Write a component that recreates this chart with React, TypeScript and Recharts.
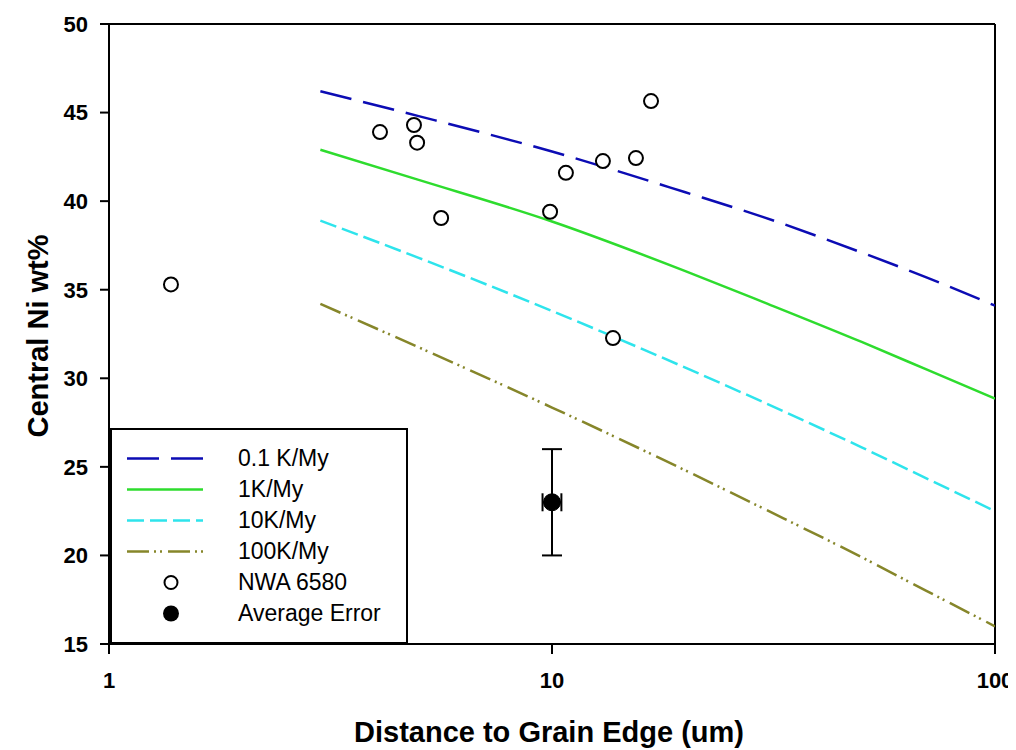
import {
  ComposedChart,
  Line,
  Scatter,
  XAxis,
  YAxis,
  ErrorBar,
  ReferenceLine,
  Legend,
  Label,
} from "recharts";

const FONT = '"Liberation Sans", Arial, sans-serif';

// model curves: distance (um) vs central Ni (wt%)
const distances = [3, 5, 10, 20, 30, 50, 70, 100];
const rate01 = [46.2, 44.8, 42.8, 40.5, 39.1, 37.1, 35.7, 34.1];
const rate1 = [42.9, 41.2, 38.85, 36.05, 34.3, 32.05, 30.5, 28.85];
const rate10 = [38.9, 36.8, 33.8, 30.6, 28.65, 26.1, 24.35, 22.5];
const rate100 = [34.2, 31.75, 28.35, 24.8, 22.65, 19.9, 18.0, 16.0];

// NWA 6580 measurements
const sampleDist = [1.38, 4.09, 4.88, 4.96, 5.62, 9.9, 10.75, 13.03, 13.73, 15.47, 16.73];
const sampleNi = [35.3, 43.9, 44.3, 43.3, 39.05, 39.4, 41.6, 42.26, 32.27, 42.43, 45.65];

// average error point
const avgDist = [10];
const avgNi = [23];
const avgErrNi = [3];
const avgErrDist: [number, number][] = [[0.48, 0.5]];

const xTicks = [1, 10, 100];
const yTicks = [15, 20, 25, 30, 35, 40, 45, 50];

const BLUE = "#0c0cb4";
const GREEN = "#2edc2e";
const CYAN = "#2ee4ec";
const OLIVE = "#86862a";

const series = [
  { name: "0.1 K/My", values: rate01, color: BLUE, dash: "32 12" },
  { name: "1K/My", values: rate1, color: GREEN, dash: undefined },
  { name: "10K/My", values: rate10, color: CYAN, dash: "17 6" },
  { name: "100K/My", values: rate100, color: OLIVE, dash: "22 5 2 4 2 6" },
];

const curveData = series.map((s) =>
  distances.map((x, i) => ({ x, ni: s.values[i] }))
);
const sampleData = sampleDist.map((x, i) => ({ x, ni: sampleNi[i] }));
const avgData = avgDist.map((x, i) => ({
  x,
  ni: avgNi[i],
  errNi: avgErrNi[i],
  errDist: avgErrDist[i],
}));

const OpenCircle = (p: any) => (
  <circle cx={p.cx} cy={p.cy} r={7} fill="#fff" stroke="#000" strokeWidth={2} />
);
const FilledCircle = (p: any) => (
  <circle cx={p.cx} cy={p.cy} r={8.5} fill="#000" stroke="#000" />
);

function LegendBox() {
  const rows = [
    ...series.map((s) => ({ label: s.name, color: s.color, dash: s.dash, marker: "" })),
    { label: "NWA 6580", color: "#000", dash: undefined, marker: "open" },
    { label: "Average Error", color: "#000", dash: undefined, marker: "filled" },
  ];
  return (
    <div
      style={{
        boxSizing: "border-box",
        width: 298,
        height: 216,
        border: "2px solid #000",
        background: "#fff",
        paddingTop: 13,
        fontFamily: FONT,
        fontSize: 23,
        color: "#000",
      }}
    >
      {rows.map((r) => (
        <div key={r.label} style={{ display: "flex", alignItems: "center", height: 31 }}>
          <svg width={126} height={31}>
            {r.marker === "" && (
              <line
                x1={15}
                x2={91}
                y1={15.5}
                y2={15.5}
                stroke={r.color}
                strokeWidth={2.5}
                strokeDasharray={r.dash}
              />
            )}
            {r.marker === "open" && (
              <circle cx={59} cy={15.5} r={6.5} fill="#fff" stroke="#000" strokeWidth={2} />
            )}
            {r.marker === "filled" && <circle cx={59} cy={15.5} r={8} fill="#000" />}
          </svg>
          <span style={{ lineHeight: "31px" }}>{r.label}</span>
        </div>
      ))}
    </div>
  );
}

const XTitle = (props: any) => {
  const vb = props.viewBox || { x: 101, y: 636, width: 886, height: 106 };
  return (
    <text
      x={vb.x + vb.width / 2 - 3}
      y={vb.y + 98}
      textAnchor="middle"
      fontFamily={FONT}
      fontSize={29}
      fontWeight="bold"
      fill="#000"
    >
      Distance to Grain Edge (um)
    </text>
  );
};

const YTitle = (props: any) => {
  const vb = props.viewBox || { x: 0, y: 16, width: 101, height: 620 };
  const x = vb.x + 40;
  const y = vb.y + vb.height / 2 + 2;
  return (
    <text
      x={x}
      y={y}
      transform={`rotate(-90, ${x}, ${y})`}
      textAnchor="middle"
      fontFamily={FONT}
      fontSize={29}
      fontWeight="bold"
      fill="#000"
    >
      Central Ni wt%
    </text>
  );
};

const tickStyle = { fontSize: 22, fontWeight: "bold", fill: "#000", fontFamily: FONT };

export default function App() {
  return (
    <div style={{ position: "relative", width: 1008, height: 742, fontFamily: FONT }}>
      <style>{"body{overflow:hidden}"}</style>
      <ComposedChart
        width={1008}
        height={742}
        margin={{ top: 16, right: 21, bottom: 0, left: 0 }}
      >
        <XAxis
          type="number"
          dataKey="x"
          scale="log"
          domain={[1, 100]}
          ticks={xTicks}
          interval={0}
          allowDataOverflow
          height={106}
          tickSize={10}
          tickMargin={18}
          tick={tickStyle}
          axisLine={{ stroke: "#000", strokeWidth: 2 }}
          tickLine={{ stroke: "#000", strokeWidth: 2 }}
        >
          <Label content={XTitle} />
        </XAxis>
        <YAxis
          type="number"
          domain={[15, 50]}
          ticks={yTicks}
          interval={0}
          allowDataOverflow
          width={101}
          tickSize={9}
          tickMargin={12}
          tick={tickStyle}
          axisLine={{ stroke: "#000", strokeWidth: 2 }}
          tickLine={{ stroke: "#000", strokeWidth: 2 }}
        >
          <Label content={YTitle} />
        </YAxis>
        <ReferenceLine y={50} stroke="#000" strokeWidth={2} />
        <ReferenceLine x={100} stroke="#000" strokeWidth={2} />
        {series.map((s, i) => (
          <Line
            key={s.name}
            data={curveData[i]}
            dataKey="ni"
            name={s.name}
            type="monotone"
            stroke={s.color}
            strokeWidth={2.5}
            strokeDasharray={s.dash}
            dot={false}
            activeDot={false}
            isAnimationActive={false}
          />
        ))}
        <Scatter
          data={avgData}
          dataKey="ni"
          name="Average Error"
          shape={FilledCircle}
          isAnimationActive={false}
        >
          <ErrorBar dataKey="errNi" direction="y" width={10} stroke="#000" strokeWidth={2} isAnimationActive={false} />
          <ErrorBar dataKey="errDist" direction="x" width={9} stroke="#000" strokeWidth={2} isAnimationActive={false} />
        </Scatter>
        <Scatter
          data={sampleData}
          dataKey="ni"
          name="NWA 6580"
          shape={OpenCircle}
          isAnimationActive={false}
        />
        <Legend
          layout="vertical"
          align="center"
          verticalAlign="middle"
          content={() => <LegendBox />}
          wrapperStyle={{ left: 102, top: 420, width: 298, height: 216 }}
        />
      </ComposedChart>
    </div>
  );
}
